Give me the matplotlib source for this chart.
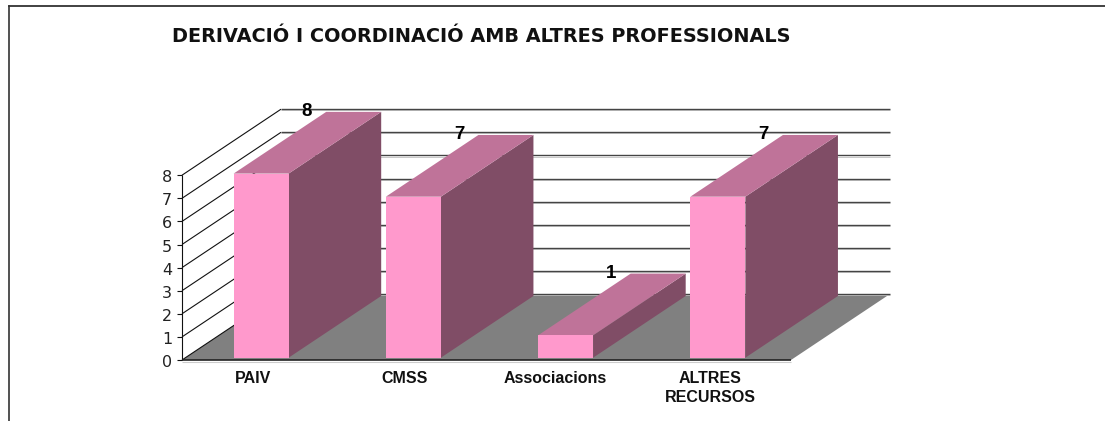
import matplotlib
matplotlib.use("Agg")
import matplotlib.pyplot as plt
from matplotlib.patches import Polygon

W, H = 1105, 421

categories = ["PAIV", "CMSS", "Associacions", "ALTRES\nRECURSOS"]
values = [8, 7, 1, 7]
y_ticks = [0, 1, 2, 3, 4, 5, 6, 7, 8]
title = "DERIVACIÓ I COORDINACIÓ AMB ALTRES PROFESSIONALS"

# pixel layout of the fake 3d box
x0_px, x1_px = 182, 791
y0_px = 360
px_per_cat = (x1_px - x0_px) / len(categories)
px_per_val = 23.1
depth_x = 99 / px_per_cat
depth_y = 66 / px_per_val
bar_depth = 0.935
bar_w = 55 / px_per_cat
bar_off = 3 / px_per_cat

plt.rcParams["font.family"] = ["Liberation Sans", "DejaVu Sans"]

fig = plt.figure(figsize=(W / 100, H / 100), dpi=100)
ax = fig.add_axes([0, 0, 1, 1])
ax.set_xlim(-0.5 - x0_px / px_per_cat, -0.5 + (W - x0_px) / px_per_cat)
ax.set_ylim(-(H - y0_px) / px_per_val, y0_px / px_per_val)
ax.axis("off")

left = -0.5
right = len(categories) - 0.5
top = y_ticks[-1]


def line(xs, ys, color="#111111", lw=1.0, z=2):
    ax.plot(xs, ys, color=color, lw=lw, zorder=z, solid_capstyle="butt")


# floor
ax.add_patch(Polygon([(left, 0), (right, 0), (right + depth_x, depth_y), (left + depth_x, depth_y)],
                     fc="#808080", ec="none", zorder=1))

# gridlines on back wall and left wall, ticks
for t in y_ticks:
    line([left + depth_x, right + depth_x], [t + depth_y - 0.05, t + depth_y - 0.05], color="#c8c8c8", lw=0.7)
    line([left + depth_x, right + depth_x], [t + depth_y, t + depth_y], color="#444444", lw=1.0)
    line([left, left + depth_x], [t, t + depth_y], color="#111111", lw=0.8)
    line([left - 0.03, left], [t, t], color="#111111", lw=0.8)
    ax.text(left - 0.064, t - 0.11, str(t), ha="right", va="center", fontsize=11.5, color="#222222",
            family="DejaVu Sans")
line([left, left], [0, top], lw=0.8)
line([left, right], [0, 0], color="#222222", lw=1.2, z=3)
line([left, right], [-0.07, -0.07], color="#cccccc", lw=0.8, z=3)

# bars
for i, v in enumerate(values):
    xa = i - bar_w / 2 + bar_off
    xb = xa + bar_w
    b = 0.1
    vt = v + 0.07
    dx = depth_x * bar_depth
    dy = depth_y * bar_depth
    ax.add_patch(Polygon([(xb, b), (xb + dx, b + dy), (xb + dx, vt + dy), (xb, vt)],
                         fc="#804D66", ec="none", zorder=4))
    ax.add_patch(Polygon([(xa, vt), (xb, vt), (xb + dx, vt + dy), (xa + dx, vt + dy)],
                         fc="#BF7399", ec="none", zorder=4))
    ax.add_patch(Polygon([(xa, b), (xb, b), (xb, vt), (xa, vt)],
                         fc="#FF99CC", ec="none", zorder=5))
    ax.text(xa + 0.79 * dx, vt + dy, str(v), ha="center", va="center",
            fontsize=13.5, fontweight="bold", color="black", zorder=6)

# category labels
label_x = [-0.034, 0.961, 1.95, 2.968]
for x, c in zip(label_x, categories):
    ax.text(x, -0.48, c, ha="center", va="top", fontsize=11.5, fontweight="bold",
            color="#111111", linespacing=1.35)

# title and frame are placed in figure pixels
fig.text(172 / W, 1 - 36.5 / H, title, ha="left", va="center", fontsize=13.85, fontweight="bold", color="#111111",
         family="DejaVu Sans")
fig.add_artist(plt.Line2D([8.5 / W, 8.5 / W], [0, 1 - 5.5 / H], color="#222222", lw=1.1))
fig.add_artist(plt.Line2D([8.5 / W, 1], [1 - 5.5 / H, 1 - 5.5 / H], color="#333333", lw=1.3))

fig.savefig("out.png", dpi=100)
